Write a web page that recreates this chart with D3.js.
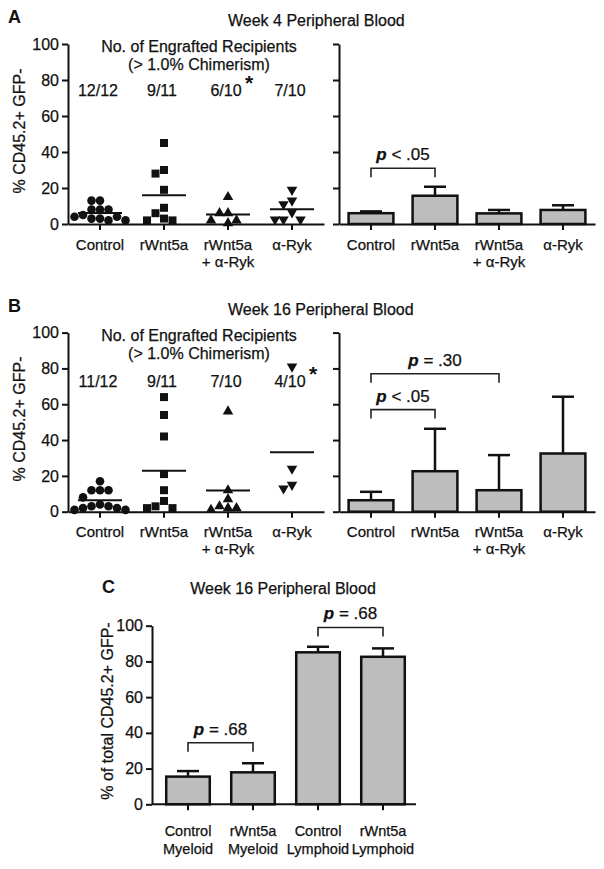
<!DOCTYPE html>
<html><head><meta charset="utf-8">
<script src="https://cdn.jsdelivr.net/npm/d3@7"></script>
<style>body{margin:0;background:#fff} svg{display:block}</style>
</head><body><svg id="c" width="604" height="869"></svg>
<script>
// ---------- data ----------
const groups = ["Control", "rWnt5a", "rWnt5a + α-Ryk", "α-Ryk"];
const groupLabels = [["Control"], ["rWnt5a"], ["rWnt5a", "+ α-Ryk"], ["α-Ryk"]];
const yTicks = [0, 20, 40, 60, 80, 100];

// Week 4 individual recipients (% CD45.2+ GFP-)
const w4Control = [13, 13, 8, 8, 8, 5, 4, 4, 3, 3, 2, 2];
const w4Wnt = [45, 30, 28, 19, 9, 6, 3, 2, 2];
const w4WntRyk = [15, 6, 6, 2, 2, 0.5];
const w4Ryk = [19, 13, 11, 6.5, 2.5, 2.5, 2.5];
const w4Counts = ["12/12", "9/11", "6/10", "7/10"];
const w4Star = [false, false, true, false];
const w4BarMean = [6, 15.7, 5.9, 7.8];
const w4BarSem = [1, 5, 1.9, 2.6];
const w4Brackets = [{ from: 0, to: 1, level: 31, text: "< .05" }];

// Week 16 individual recipients
const w16Control = [17, 12, 12, 12, 8, 4, 3, 3, 2, 2, 1, 1];
const w16Wnt = [64, 54, 42, 21, 12, 6, 3, 2, 2];
const w16WntRyk = [56, 12, 7, 3, 2, 2, 1];
const w16Ryk = [81, 24, 15, 13];
const w16Counts = ["11/12", "9/11", "7/10", "4/10"];
const w16Star = [false, false, false, true];
const w16BarMean = [6.4, 22.6, 12, 32.5];
const w16BarSem = [4.7, 23.7, 19.6, 31.7];
const w16Brackets = [
  { from: 0, to: 2, level: 77, text: "= .30" },
  { from: 0, to: 1, level: 57, text: "< .05" }
];

// Panel C
const cGroups = ["Control Myeloid", "rWnt5a Myeloid", "Control Lymphoid", "rWnt5a Lymphoid"];
const cLabels = [["Control", "Myeloid"], ["rWnt5a", "Myeloid"], ["Control", "Lymphoid"], ["rWnt5a", "Lymphoid"]];
const cMean = [15.5, 17.9, 85.1, 82.6];
const cSem = [3.1, 5.1, 3.1, 4.7];
const cBrackets = [
  { from: 0, to: 1, level: 34.5, text: "= .68" },
  { from: 2, to: 3, level: 99, text: "= .68" }
];

// ---------- drawing ----------
const FONT = "'Liberation Sans', Arial, Helvetica, sans-serif";
const INK = "#111";
const svg = d3.select("#c");

function txt(x, y, s, size, anchor, weight) {
  return svg.append("text").attr("x", x).attr("y", y).text(s)
    .attr("font-family", FONT).attr("font-size", size).attr("fill", INK)
    .attr("stroke", INK).attr("stroke-width", weight === "bold" ? 0 : 0.25)
    .attr("text-anchor", anchor || "start").attr("font-weight", weight || "normal");
}

function yAxis(y, x0, showLabels) {
  const g = svg.append("g").attr("transform", `translate(${x0},0)`)
    .call(d3.axisLeft(y).tickValues(yTicks).tickSize(6).tickSizeOuter(0).tickPadding(3)
      .tickFormat(showLabels ? d3.format("d") : () => ""));
  g.select(".domain").attr("stroke", INK).attr("stroke-width", 2);
  g.selectAll(".tick line").attr("stroke", INK).attr("stroke-width", 2);
  g.selectAll(".tick text").attr("font-size", 16).attr("font-family", FONT).attr("fill", INK)
    .attr("stroke", INK).attr("stroke-width", 0.25);
}

function xAxis(x, y0, labels, off, gap) {
  const g = svg.append("g").attr("transform", `translate(0,${y0})`)
    .call(d3.axisBottom(x).tickSize(6).tickSizeOuter(0).tickFormat(() => ""));
  g.select(".domain").attr("stroke", INK).attr("stroke-width", 2);
  g.selectAll(".tick line").attr("stroke", INK).attr("stroke-width", 2);
  x.domain().forEach((d, i) => {
    const t = svg.append("text").attr("font-family", FONT).attr("font-size", 15)
      .attr("fill", INK).attr("stroke", INK).attr("stroke-width", 0.25).attr("text-anchor", "middle");
    labels[i].forEach((line, j) => {
      t.append("tspan").attr("x", x(d) + x.bandwidth() / 2).attr("y", y0 + off + j * gap).text(line);
    });
  });
}

function swarm(values, y, cx, step, minDist) {
  const order = values.map((v, i) => ({ v, i, py: y(v) })).sort((a, b) => b.v - a.v);
  const placed = [];
  for (const p of order) {
    for (let k = 0; k < 40; k++) {
      const off = k === 0 ? 0 : (k % 2 ? -1 : 1) * Math.ceil(k / 2) * step;
      const px = cx + off;
      if (placed.every(q => Math.hypot(q.px - px, q.py - p.py) >= minDist)) {
        p.px = px; placed.push(p); break;
      }
    }
  }
  return placed;
}

const shapes = [d3.symbolCircle, d3.symbolSquare, d3.symbolTriangle, d3.symbolTriangle];
const sizes = [58, 64, 48, 48];
const rots = [0, 0, 0, 180];

function scatter(x, y, series) {
  series.forEach((vals, i) => {
    const cx = x(groups[i]) + x.bandwidth() / 2;
    const pts = swarm(vals, y, cx, 8.5, 7.2);
    svg.append("g").selectAll("path").data(pts).join("path")
      .attr("d", d3.symbol().type(shapes[i]).size(sizes[i]))
      .attr("transform", d => `translate(${d.px},${d.py}) rotate(${rots[i]})`)
      .attr("fill", INK);
    const m = d3.mean(vals);
    svg.append("line").attr("x1", cx - 22).attr("x2", cx + 22)
      .attr("y1", y(m)).attr("y2", y(m)).attr("stroke", INK).attr("stroke-width", 2);
  });
}

function bars(x, y, cats, means, sems, widthFrac) {
  const bw = x.bandwidth() * widthFrac;
  cats.forEach((c, i) => {
    const cx = x(c) + x.bandwidth() / 2;
    const top = y(means[i]), cap = y(means[i] + sems[i]);
    svg.append("line").attr("x1", cx).attr("x2", cx).attr("y1", top).attr("y2", cap)
      .attr("stroke", INK).attr("stroke-width", 2.5);
    svg.append("line").attr("x1", cx - 11).attr("x2", cx + 11).attr("y1", cap).attr("y2", cap)
      .attr("stroke", INK).attr("stroke-width", 2.5);
    svg.append("rect").attr("x", cx - bw / 2).attr("y", top)
      .attr("width", bw).attr("height", y(0) - top)
      .attr("fill", "#bdbdbd").attr("stroke", INK).attr("stroke-width", 2.5);
  });
}

function brackets(x, y, cats, list) {
  list.forEach(b => {
    const x1 = x(cats[b.from]) + x.bandwidth() / 2, x2 = x(cats[b.to]) + x.bandwidth() / 2;
    const yy = y(b.level);
    svg.append("path").attr("d", `M${x1},${yy + 9}V${yy}H${x2}V${yy + 9}`)
      .attr("fill", "none").attr("stroke", "#222").attr("stroke-width", 1.6);
    const t = svg.append("text").attr("x", (x1 + x2) / 2).attr("y", yy - 8)
      .attr("font-family", FONT).attr("font-size", 17).attr("fill", INK)
      .attr("stroke", INK).attr("stroke-width", 0.25).attr("text-anchor", "middle");
    t.append("tspan").attr("font-style", "italic").attr("font-weight", "bold").text("p");
    t.append("tspan").text(" " + b.text);
  });
}

function headers(x, y100, counts, stars, off) {
  txt(199, y100 + 8, "No. of Engrafted Recipients", 16, "middle");
  txt(199, y100 + 26, "(> 1.0% Chimerism)", 16, "middle");
  counts.forEach((c, i) => {
    const cx = x(groups[i]) + x.bandwidth() / 2;
    txt(cx - 2, y100 + off, c, 16, "middle");
    if (stars[i]) txt(cx + 21, y100 + off - 6, "*", 21, "middle", "bold");
  });
}

function ylabel(x, y, s) {
  svg.append("text").attr("transform", `translate(${x},${y}) rotate(-90)`)
    .attr("font-family", FONT).attr("font-size", 16).attr("fill", INK)
    .attr("stroke", INK).attr("stroke-width", 0.25)
    .attr("text-anchor", "middle").text(s);
}

// ---- Panel A ----
const yA = d3.scaleLinear().domain([0, 100]).range([224, 44]);
const xAL = d3.scaleBand().domain(groups).range([68, 324]);
const xAR = d3.scaleBand().domain(groups).range([339, 595]);
txt(8, 23, "A", 18, "start", "bold");
txt(228, 26, "Week 4 Peripheral Blood", 16, "start");
ylabel(25, 131, "% CD45.2+ GFP-");
headers(xAL, 44, w4Counts, w4Star, 52);
scatter(xAL, yA, [w4Control, w4Wnt, w4WntRyk, w4Ryk]);
yAxis(yA, 68, true);
xAxis(xAL, 224, groupLabels, 26, 17);
bars(xAR, yA, groups, w4BarMean, w4BarSem, 0.7);
yAxis(yA, 339, false);
xAxis(xAR, 224, groupLabels, 26, 17);
brackets(xAR, yA, groups, w4Brackets);

// ---- Panel B ----
const yB = d3.scaleLinear().domain([0, 100]).range([511.7, 332.6]);
txt(8, 312, "B", 18, "start", "bold");
txt(228, 315, "Week 16 Peripheral Blood", 16, "start");
ylabel(25, 419, "% CD45.2+ GFP-");
headers(xAL, 332.6, w16Counts, w16Star, 54.5);
scatter(xAL, yB, [w16Control, w16Wnt, w16WntRyk, w16Ryk]);
yAxis(yB, 68, true);
xAxis(xAL, 511.7, groupLabels, 25.5, 17);
bars(xAR, yB, groups, w16BarMean, w16BarSem, 0.7);
yAxis(yB, 339, false);
xAxis(xAR, 511.7, groupLabels, 25.5, 17);
brackets(xAR, yB, groups, w16Brackets);

// ---- Panel C ----
const yC = d3.scaleLinear().domain([0, 100]).range([804.3, 625.7]);
const xC = d3.scaleBand().domain(cGroups).range([155.5, 415.5]);
txt(102, 593, "C", 18, "start", "bold");
txt(283, 594, "Week 16 Peripheral Blood", 16, "middle");
ylabel(113, 711, "% of total CD45.2+ GFP-");
bars(xC, yC, cGroups, cMean, cSem, 0.67);
yAxis(yC, 152, true);
const gC = svg.append("g").attr("transform", "translate(0,804.3)")
  .call(d3.axisBottom(xC).tickSize(6).tickSizeOuter(0).tickFormat(() => ""));
gC.select(".domain").attr("d", "M152,0H416").attr("stroke", INK).attr("stroke-width", 2);
gC.selectAll(".tick line").attr("stroke", INK).attr("stroke-width", 2);
cGroups.forEach((d, i) => {
  const t = svg.append("text").attr("font-family", FONT).attr("font-size", 14.5)
    .attr("fill", INK).attr("stroke", INK).attr("stroke-width", 0.25).attr("text-anchor", "middle");
  cLabels[i].forEach((line, j) => {
    t.append("tspan").attr("x", xC(d) + xC.bandwidth() / 2).attr("y", 836 + j * 18).text(line);
  });
});
brackets(xC, yC, cGroups, cBrackets);
</script></body></html>
